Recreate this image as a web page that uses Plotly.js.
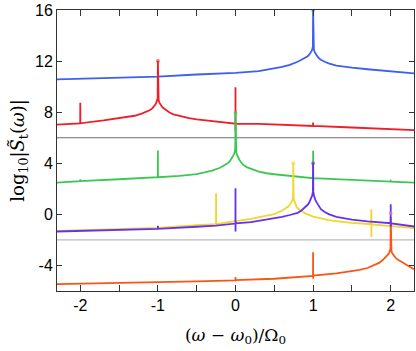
<!DOCTYPE html>
<html>
<head>
<meta charset="utf-8">
<script src="https://cdn.plot.ly/plotly-3.0.1.min.js"></script>
<style>
  html, body { margin: 0; padding: 0; background: #fff; }
  #chart { width: 416px; height: 351px; }
</style>
</head>
<body>
<div id="chart"></div>
<script>
// values, x in units of (w - w0)/W0, y = log10|S|
const blue_x = [-2.3, -2, -1.5, -1, -0.5, 0, 0.3, 0.5, 0.6, 0.7, 0.75, 0.8, 0.85, 0.9, 0.93, 0.95, 0.97, 0.98, 0.99, 0.997, 1.0,
                1.003, 1.01, 1.02, 1.03, 1.05, 1.08, 1.1, 1.15, 1.2, 1.3, 1.4, 1.5, 1.7, 1.9, 2.0, 2.3];
const blue_y = [10.57, 10.62, 10.7, 10.78, 10.95, 11.07, 11.22, 11.43, 11.55, 11.7, 11.8, 11.95, 12.1, 12.25, 12.38, 12.5, 12.65, 12.78, 12.95, 13.15, 16.0,
                13.15, 12.9, 12.72, 12.6, 12.4, 12.2, 12.1, 11.95, 11.82, 11.65, 11.55, 11.48, 11.36, 11.25, 11.2, 11.04];

const red_x = [-2.3, -2.001, -2, -1.999, -1.7, -1.5, -1.4, -1.3, -1.2, -1.15, -1.1, -1.07, -1.05, -1.03, -1.02, -1.01, -1.003, -1,
               -0.997, -0.99, -0.98, -0.97, -0.95, -0.93, -0.9, -0.85, -0.8, -0.7, -0.6, -0.5, -0.3, -0.1, -0.001, 0, 0.0005, 0.001,
               0.3, 0.5, 0.8, 0.999, 1, 1.001, 1.5, 2, 2.3];
const red_y = [7.02, 7.13, 8.74, 7.13, 7.35, 7.52, 7.6, 7.72, 7.91, 8.02, 8.17, 8.32, 8.45, 8.62, 8.75, 8.92, 9.1, 12.0,
               9.1, 8.92, 8.75, 8.62, 8.45, 8.32, 8.17, 7.98, 7.83, 7.65, 7.53, 7.44, 7.3, 7.18, 7.1, 9.95, 6.5, 7.08,
               7.08, 7.04, 6.97, 6.92, 7.2, 6.92, 6.8, 6.68, 6.6];

const green_x = [-2.3, -2.001, -2, -1.999, -1.5, -1.001, -1, -0.999, -0.72, -0.5, -0.4, -0.3, -0.2, -0.15, -0.1, -0.07, -0.05, -0.03, -0.02, -0.01, -0.003, 0,
                 0.003, 0.01, 0.02, 0.03, 0.05, 0.07, 0.1, 0.15, 0.2, 0.3, 0.4, 0.5, 0.999, 1, 1.001, 1.5, 1.999, 2, 2.001, 2.3];
const green_y = [2.49, 2.6, 2.75, 2.6, 2.75, 2.91, 5.0, 2.91, 3.01, 3.15, 3.28, 3.43, 3.65, 3.8, 4.0, 4.18, 4.35, 4.55, 4.7, 4.9, 5.15, 8.0,
                 5.15, 4.85, 4.65, 4.5, 4.28, 4.1, 3.87, 3.68, 3.55, 3.35, 3.22, 3.14, 2.83, 4.99, 2.83, 2.7, 2.57, 2.7, 2.57, 2.49];

const yellow_x = [-2.3, -2, -1.5, -1, -0.5, -0.251, -0.25, -0.249, 0, 0.2, 0.4, 0.5, 0.6, 0.65, 0.68, 0.7, 0.72, 0.73, 0.738, 0.742, 0.745,
                  0.748, 0.752, 0.76, 0.77, 0.79, 0.82, 0.86, 0.9, 1.0, 1.1, 1.2, 1.35, 1.5, 1.749, 1.75, 1.7505, 1.751, 2.0, 2.3];
const yellow_y = [-1.3, -1.25, -1.15, -1.05, -0.85, -0.77, 1.66, -0.77, -0.53, -0.35, -0.1, 0.02, 0.3, 0.48, 0.62, 0.75, 0.92, 1.02, 1.15, 1.3, 4.0,
                  1.3, 1.15, 1.0, 0.88, 0.55, 0.38, 0.2, 0.08, -0.17, -0.32, -0.45, -0.57, -0.67, -0.77, 0.41, -1.78, -0.78, -0.92, -1.08];

const purple_x = [-2.3, -2, -1.5, -1.001, -1, -0.999, -0.5, -0.25, -0.001, 0, 0.0005, 0.001, 0.2, 0.4, 0.6, 0.7, 0.8, 0.85, 0.9, 0.93, 0.95, 0.97, 0.98, 0.99, 0.997, 1.0,
                  1.003, 1.01, 1.02, 1.03, 1.05, 1.07, 1.1, 1.15, 1.2, 1.3, 1.4, 1.5, 1.7, 1.9, 1.999, 2, 2.0005, 2.001, 2.3];
const purple_y = [-1.34, -1.3, -1.22, -1.13, -0.9, -1.13, -0.97, -0.88, -0.72, 2.05, -1.34, -0.7, -0.6, -0.42, -0.2, -0.05, 0.12, 0.3, 0.55, 0.75, 0.92, 1.15, 1.3, 1.5, 1.78, 4.0,
                  1.78, 1.5, 1.28, 1.12, 0.9, 0.72, 0.4, 0.18, 0.02, -0.2, -0.32, -0.42, -0.55, -0.65, -0.69, 0.8, -0.95, -0.7, -0.95];

const orange_x = [-2.3, -2, -1.5, -1, -0.5, -0.001, 0, 0.001, 0.5, 0.999, 1, 1.0005, 1.001, 1.3, 1.5, 1.6, 1.7, 1.8, 1.85, 1.9, 1.93, 1.95, 1.97, 1.98, 1.99, 1.997, 2.0,
                  2.003, 2.01, 2.02, 2.03, 2.05, 2.07, 2.1, 2.15, 2.2, 2.25, 2.3];
const orange_y = [-5.46, -5.43, -5.38, -5.33, -5.25, -5.17, -4.91, -5.15, -5.04, -4.81, -2.96, -5.04, -4.8, -4.62, -4.47, -4.35, -4.2, -3.95, -3.8, -3.56, -3.4, -3.27, -3.12, -3.02, -2.9, -2.7, -0.2,
                  -2.7, -2.9, -3.05, -3.15, -3.3, -3.45, -3.58, -3.78, -3.95, -4.12, -4.29];

// small dots on the peak tops
const peak_x = [1.0, -1.0, 0.0, 0.745, 1.0, 2.0];
const peak_y = [16.0, 12.0, 7.96, 4.0, 4.0, 0.09];

const series_names = ['blue', 'red', 'green', 'yellow', 'orange', 'purple'];
const series_colors = ['#3f5ff0', '#f01e28', '#3cc850', '#f2d62c', '#fa5514', '#6432f0'];
const peak_colors = ['#3f5ff0', '#f01e28', '#3cc850', '#f2d62c', '#6432f0', '#f08080'];

// gray separators between the groups
const separator_y = [6, -2];
const separator_colors = ['#6e6e6e', '#b4bcc4'];

const x_ticks = [-2, -1, 0, 1, 2];
const x_ticktext = ['-2', '-1', '0', '1', '2'];
const y_ticks = [-4, 0, 4, 8, 12, 16];
const y_ticktext = ['-4', '0', '4', '8', '12', '16'];

const xs = [blue_x, red_x, green_x, yellow_x, orange_x, purple_x];
const ys = [blue_y, red_y, green_y, yellow_y, orange_y, purple_y];

let traces = [];
for (let i = 0; i < xs.length; i++) {
    traces.push({
        x: xs[i], y: ys[i],
        type: 'scatter', mode: 'lines',
        name: series_names[i],
        line: {color: series_colors[i], width: 1.8},
        hoverinfo: 'skip'
    });
}
traces.push({
    x: peak_x, y: peak_y,
    type: 'scatter', mode: 'markers',
    marker: {color: peak_colors, size: 4, opacity: 0.6},
    hoverinfo: 'skip'
});

let shapes = separator_y.map((v, i) => ({
    type: 'line', xref: 'paper', x0: 0, x1: 1, yref: 'y', y0: v, y1: v,
    line: {color: separator_colors[i], width: 1.2},
    layer: 'below'
}));

const layout = {
    width: 416, height: 351,
    margin: {l: 57, r: 2, t: 10, b: 60},
    paper_bgcolor: '#fff', plot_bgcolor: '#fff',
    showlegend: false,
    font: {family: 'Liberation Sans, Arial, sans-serif', size: 16, color: '#000'},
    xaxis: {
        range: [-2.3, 2.3],
        tickvals: x_ticks, ticktext: x_ticktext,
        ticks: 'inside', ticklen: 6, tickcolor: '#333', tickwidth: 1,
        minor: {dtick: 0.5, tick0: 0, ticks: 'inside', ticklen: 6, tickcolor: '#333', tickwidth: 1, showgrid: false},
        showline: true, linecolor: '#333', linewidth: 1, mirror: 'ticks',
        showgrid: false, zeroline: false,
        title: {text: '(<i>ω</i> − <i>ω</i><sub>0</sub>)/Ω<sub>0</sub>', font: {family: 'DejaVu Serif, serif', size: 17}, standoff: 15}
    },
    yaxis: {
        range: [-6, 16],
        tickvals: y_ticks, ticktext: y_ticktext,
        ticks: 'inside', ticklen: 5, tickcolor: '#333', tickwidth: 1,
        showline: true, linecolor: '#333', linewidth: 1, mirror: 'ticks',
        showgrid: false, zeroline: false,
        title: {text: 'log<sub>10</sub>|<i>S̃</i><sub>t</sub>(<i>ω</i>)|', font: {family: 'DejaVu Serif, serif', size: 18}, standoff: 5}
    },
    shapes: shapes
};

Plotly.newPlot('chart', traces, layout, {displayModeBar: false, staticPlot: true});
</script>
</body>
</html>
